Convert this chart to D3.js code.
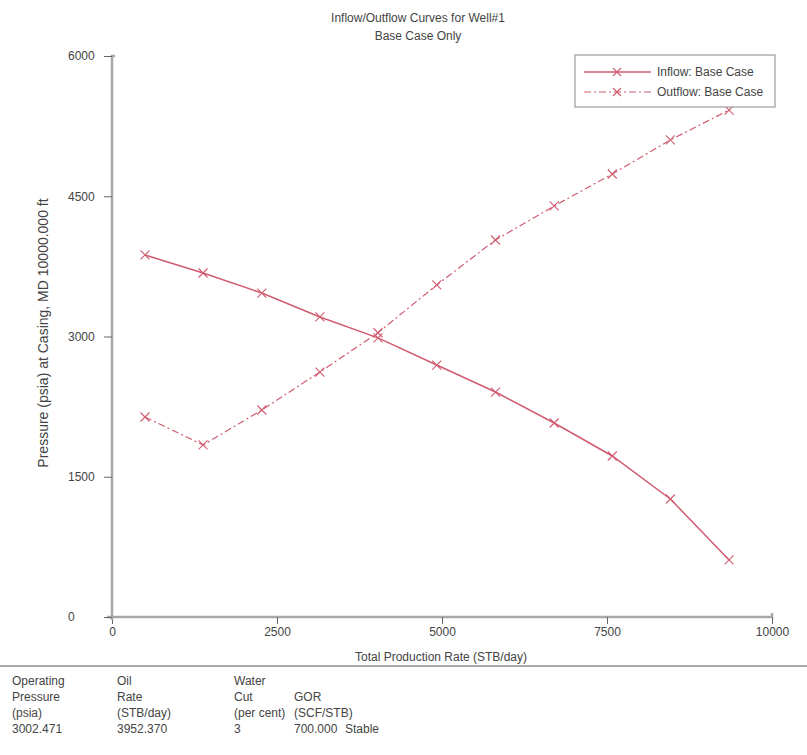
<!DOCTYPE html>
<html><head><meta charset="utf-8">
<script src="https://cdn.jsdelivr.net/npm/d3@7"></script>
<style>
body{margin:0;background:#fff;}
text{font-family:"Liberation Sans Narrow","Liberation Sans",Arial,sans-serif;fill:#444;}
</style></head>
<body><svg id="c" width="807" height="755"></svg>
<script>
const rates = [500, 1380, 2270, 3150, 4030, 4920, 5810, 6700, 7580, 8460, 9350];
const inflow = [3872, 3679, 3465, 3209, 2985, 2695, 2406, 2075, 1722, 1262, 610];
const outflow = [2139, 1840, 2214, 2620, 3040, 3551, 4032, 4396, 4738, 5102, 5422];
const xTicks = [0, 2500, 5000, 7500, 10000];
const yTicks = [0, 1500, 3000, 4500, 6000];
const seriesNames = ["Inflow: Base Case", "Outflow: Base Case"];
const tableHeaders = [["Operating","Pressure","(psia)"],["Oil","Rate","(STB/day)"],["Water","Cut","(per cent)"],["","GOR","(SCF/STB)"]];
const tableValues = ["3002.471","3952.370","3","700.000","Stable"];

const svg = d3.select("#c");
const x = d3.scaleLinear().domain([0,10000]).range([112,772]);
const y = d3.scaleLinear().domain([0,6000]).range([617,56]);
const red = "#d05c70";

// title
svg.append("text").attr("x",418).attr("y",22).attr("text-anchor","middle").attr("font-size",12).text("Inflow/Outflow Curves for Well#1");
svg.append("text").attr("x",418).attr("y",40).attr("text-anchor","middle").attr("font-size",12).text("Base Case Only");

// axes
const gx = svg.append("g").attr("transform","translate(0,617)")
  .call(d3.axisBottom(x).tickValues(xTicks).tickSize(7).tickFormat(d3.format("d")));
gx.select(".domain").attr("stroke","#a8a8a8").attr("stroke-width",2.5).attr("d","M107,0H772V-4");
gx.selectAll(".tick line").attr("stroke","#666");
gx.selectAll(".tick text").attr("font-size",12).attr("dy","0.9em").attr("y",8);

const gy = svg.append("g").attr("transform","translate(112,0)")
  .call(d3.axisLeft(y).tickValues(yTicks).tickSize(8).tickFormat(d3.format("d")));
gy.select(".domain").attr("stroke","#a8a8a8").attr("stroke-width",2.5).attr("d","M3,56H0V620");
gy.selectAll(".tick line").attr("stroke","#666");
gy.selectAll(".tick text").attr("font-size",12).attr("text-anchor","start").attr("x",-44);

svg.append("text").attr("x",441).attr("y",661).attr("text-anchor","middle").attr("font-size",12).text("Total Production Rate (STB/day)");
svg.append("text").attr("transform","translate(48,333) rotate(-90)").attr("text-anchor","middle").attr("font-size",14).text("Pressure (psia) at Casing, MD 10000.000 ft");

// lines
const pts = (vals)=>rates.map((r,i)=>[r,vals[i]]);
const line = d3.line().x(d=>x(d[0])).y(d=>y(d[1]));
const cross = (g, data)=>{
  g.selectAll("path.m").data(data).join("path").attr("class","m")
   .attr("d",d=>{const cx=x(d[0]),cy=y(d[1]),s=4.5;return `M${cx-s},${cy-s}L${cx+s},${cy+s}M${cx-s},${cy+s}L${cx+s},${cy-s}`;})
   .attr("stroke",red).attr("stroke-width",1.1).attr("fill","none");
};
const g1 = svg.append("g");
g1.append("path").attr("d",line(pts(inflow))).attr("fill","none").attr("stroke",red).attr("stroke-width",1.5);
cross(g1, pts(inflow));
const g2 = svg.append("g");
g2.append("path").attr("d",line(pts(outflow))).attr("fill","none").attr("stroke",red).attr("stroke-width",1.2).attr("stroke-dasharray","7,3,2,3");
cross(g2, pts(outflow));

// legend
const lg = svg.append("g");
lg.append("rect").attr("x",575).attr("y",55).attr("width",200).attr("height",52).attr("fill","#fff").attr("stroke","#888").attr("stroke-width",1);
seriesNames.forEach((n,i)=>{
  const yy = 72 + i*20;
  lg.append("line").attr("x1",584).attr("x2",651).attr("y1",yy).attr("y2",yy).attr("stroke",red)
    .attr("stroke-width",i?1.2:1.5).attr("stroke-dasharray",i?"7,3,2,3":null);
  lg.append("path").attr("d",`M${613},${yy-4}L${621},${yy+4}M${613},${yy+4}L${621},${yy-4}`).attr("stroke",red).attr("stroke-width",1.1);
  lg.append("text").attr("x",657).attr("y",yy+4).attr("font-size",12).text(n);
});

// bottom table
svg.append("line").attr("x1",0).attr("x2",807).attr("y1",666).attr("y2",666).attr("stroke","#555").attr("stroke-width",1.2);
const colX = [12, 117, 234, 294, 345];
tableHeaders.forEach((col,ci)=>{
  col.forEach((t,ri)=>{
    if(t) svg.append("text").attr("x",colX[ci]).attr("y",685+ri*16).attr("font-size",12).text(t);
  });
});
tableValues.forEach((t,ci)=>{
  svg.append("text").attr("x",colX[ci]).attr("y",733).attr("font-size",12).text(t);
});
</script></body></html>
